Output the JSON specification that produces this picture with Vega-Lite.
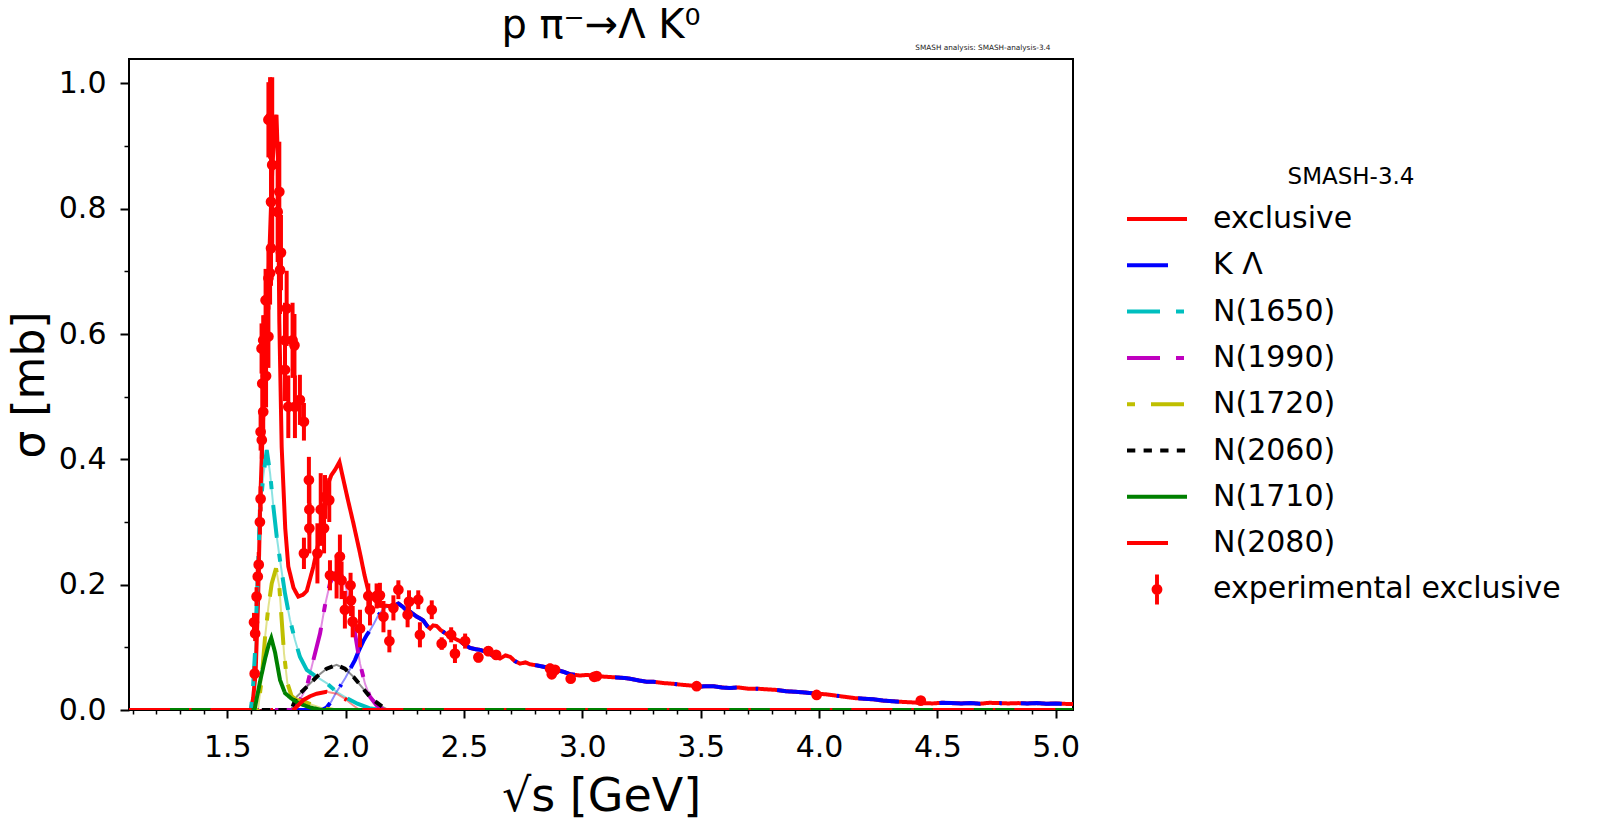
{
  "$schema": "https://vega.github.io/schema/vega-lite/v6.json",
  "autosize": {"type": "none"},
  "padding": {"left": 129, "top": 59, "right": 527, "bottom": 125},
  "width": 944,
  "height": 651,
  "background": "white",
  "config": {"font": "DejaVu Sans", "view": {"stroke": "black", "strokeWidth": 2}},
  "title": {"text": "p π⁻→Λ K⁰", "fontSize": 40, "fontWeight": "normal", "font": "DejaVu Sans", "color": "black", "anchor": "middle", "offset": -3},
  "datasets": {
    "curves": [
      {"series": "exclusive", "x": 1.085, "y": 0},
      {"series": "exclusive", "x": 1.6, "y": 0},
      {"series": "exclusive", "x": 1.61, "y": 0.02},
      {"series": "exclusive", "x": 1.62, "y": 0.06},
      {"series": "exclusive", "x": 1.63, "y": 0.17},
      {"series": "exclusive", "x": 1.64, "y": 0.34},
      {"series": "exclusive", "x": 1.652, "y": 0.47},
      {"series": "exclusive", "x": 1.665, "y": 0.6},
      {"series": "exclusive", "x": 1.68, "y": 0.75},
      {"series": "exclusive", "x": 1.69, "y": 0.86},
      {"series": "exclusive", "x": 1.7, "y": 0.93},
      {"series": "exclusive", "x": 1.708, "y": 0.95},
      {"series": "exclusive", "x": 1.714, "y": 0.88},
      {"series": "exclusive", "x": 1.72, "y": 0.62},
      {"series": "exclusive", "x": 1.73, "y": 0.42},
      {"series": "exclusive", "x": 1.745, "y": 0.29},
      {"series": "exclusive", "x": 1.758, "y": 0.229},
      {"series": "exclusive", "x": 1.78, "y": 0.195},
      {"series": "exclusive", "x": 1.8, "y": 0.181},
      {"series": "exclusive", "x": 1.82, "y": 0.184},
      {"series": "exclusive", "x": 1.836, "y": 0.19},
      {"series": "exclusive", "x": 1.864, "y": 0.229},
      {"series": "exclusive", "x": 1.89, "y": 0.275},
      {"series": "exclusive", "x": 1.913, "y": 0.319},
      {"series": "exclusive", "x": 1.925, "y": 0.36},
      {"series": "exclusive", "x": 1.94, "y": 0.375},
      {"series": "exclusive", "x": 1.955, "y": 0.383},
      {"series": "exclusive", "x": 1.974, "y": 0.396},
      {"series": "exclusive", "x": 1.991, "y": 0.367},
      {"series": "exclusive", "x": 2.01, "y": 0.335},
      {"series": "exclusive", "x": 2.033, "y": 0.298},
      {"series": "exclusive", "x": 2.061, "y": 0.25},
      {"series": "exclusive", "x": 2.08, "y": 0.215},
      {"series": "exclusive", "x": 2.096, "y": 0.19},
      {"series": "exclusive", "x": 2.12, "y": 0.176},
      {"series": "exclusive", "x": 2.15, "y": 0.167},
      {"series": "exclusive", "x": 2.18, "y": 0.166},
      {"series": "exclusive", "x": 2.202, "y": 0.166},
      {"series": "exclusive", "x": 2.223, "y": 0.17},
      {"series": "exclusive", "x": 2.244, "y": 0.164},
      {"series": "exclusive", "x": 2.26, "y": 0.158},
      {"series": "exclusive", "x": 2.272, "y": 0.157},
      {"series": "exclusive", "x": 2.29, "y": 0.152},
      {"series": "exclusive", "x": 2.3, "y": 0.149},
      {"series": "exclusive", "x": 2.315, "y": 0.146},
      {"series": "exclusive", "x": 2.328, "y": 0.143},
      {"series": "exclusive", "x": 2.345, "y": 0.134},
      {"series": "exclusive", "x": 2.357, "y": 0.13},
      {"series": "exclusive", "x": 2.37, "y": 0.135},
      {"series": "exclusive", "x": 2.385, "y": 0.134},
      {"series": "exclusive", "x": 2.4, "y": 0.128},
      {"series": "exclusive", "x": 2.427, "y": 0.121},
      {"series": "exclusive", "x": 2.45, "y": 0.116},
      {"series": "exclusive", "x": 2.483, "y": 0.11},
      {"series": "exclusive", "x": 2.5, "y": 0.105},
      {"series": "exclusive", "x": 2.526, "y": 0.099},
      {"series": "exclusive", "x": 2.55, "y": 0.097},
      {"series": "exclusive", "x": 2.568, "y": 0.096},
      {"series": "exclusive", "x": 2.6, "y": 0.092},
      {"series": "exclusive", "x": 2.625, "y": 0.086},
      {"series": "exclusive", "x": 2.652, "y": 0.082},
      {"series": "exclusive", "x": 2.675, "y": 0.087},
      {"series": "exclusive", "x": 2.695, "y": 0.085},
      {"series": "exclusive", "x": 2.715, "y": 0.078},
      {"series": "exclusive", "x": 2.737, "y": 0.074},
      {"series": "exclusive", "x": 2.76, "y": 0.076},
      {"series": "exclusive", "x": 2.779, "y": 0.073},
      {"series": "exclusive", "x": 2.81, "y": 0.071},
      {"series": "exclusive", "x": 2.836, "y": 0.069},
      {"series": "exclusive", "x": 2.86, "y": 0.067},
      {"series": "exclusive", "x": 2.878, "y": 0.066},
      {"series": "exclusive", "x": 2.9, "y": 0.063},
      {"series": "exclusive", "x": 2.92, "y": 0.061},
      {"series": "exclusive", "x": 2.95, "y": 0.057},
      {"series": "exclusive", "x": 2.99, "y": 0.055},
      {"series": "exclusive", "x": 3.02, "y": 0.056},
      {"series": "exclusive", "x": 3.061, "y": 0.054},
      {"series": "exclusive", "x": 3.1, "y": 0.053},
      {"series": "exclusive", "x": 3.145, "y": 0.052},
      {"series": "exclusive", "x": 3.18, "y": 0.051},
      {"series": "exclusive", "x": 3.202, "y": 0.05},
      {"series": "exclusive", "x": 3.24, "y": 0.047},
      {"series": "exclusive", "x": 3.272, "y": 0.045},
      {"series": "exclusive", "x": 3.3, "y": 0.045},
      {"series": "exclusive", "x": 3.342, "y": 0.043},
      {"series": "exclusive", "x": 3.38, "y": 0.042},
      {"series": "exclusive", "x": 3.427, "y": 0.04},
      {"series": "exclusive", "x": 3.46, "y": 0.039},
      {"series": "exclusive", "x": 3.483, "y": 0.037},
      {"series": "exclusive", "x": 3.52, "y": 0.038},
      {"series": "exclusive", "x": 3.554, "y": 0.038},
      {"series": "exclusive", "x": 3.59, "y": 0.036},
      {"series": "exclusive", "x": 3.624, "y": 0.035},
      {"series": "exclusive", "x": 3.66, "y": 0.036},
      {"series": "exclusive", "x": 3.7, "y": 0.034},
      {"series": "exclusive", "x": 3.74, "y": 0.034},
      {"series": "exclusive", "x": 3.78, "y": 0.033},
      {"series": "exclusive", "x": 3.82, "y": 0.032},
      {"series": "exclusive", "x": 3.86, "y": 0.03},
      {"series": "exclusive", "x": 3.9, "y": 0.029},
      {"series": "exclusive", "x": 3.94, "y": 0.028},
      {"series": "exclusive", "x": 3.99, "y": 0.026},
      {"series": "exclusive", "x": 4.03, "y": 0.025},
      {"series": "exclusive", "x": 4.07, "y": 0.023},
      {"series": "exclusive", "x": 4.11, "y": 0.021},
      {"series": "exclusive", "x": 4.15, "y": 0.019},
      {"series": "exclusive", "x": 4.19, "y": 0.018},
      {"series": "exclusive", "x": 4.23, "y": 0.017},
      {"series": "exclusive", "x": 4.27, "y": 0.015},
      {"series": "exclusive", "x": 4.31, "y": 0.014},
      {"series": "exclusive", "x": 4.35, "y": 0.013},
      {"series": "exclusive", "x": 4.4, "y": 0.012},
      {"series": "exclusive", "x": 4.44, "y": 0.011},
      {"series": "exclusive", "x": 4.48, "y": 0.0105},
      {"series": "exclusive", "x": 4.52, "y": 0.0115},
      {"series": "exclusive", "x": 4.56, "y": 0.011},
      {"series": "exclusive", "x": 4.6, "y": 0.0105},
      {"series": "exclusive", "x": 4.64, "y": 0.011},
      {"series": "exclusive", "x": 4.68, "y": 0.01},
      {"series": "exclusive", "x": 4.72, "y": 0.0115},
      {"series": "exclusive", "x": 4.76, "y": 0.011},
      {"series": "exclusive", "x": 4.8, "y": 0.0105},
      {"series": "exclusive", "x": 4.84, "y": 0.011},
      {"series": "exclusive", "x": 4.88, "y": 0.0105},
      {"series": "exclusive", "x": 4.92, "y": 0.011},
      {"series": "exclusive", "x": 4.96, "y": 0.01},
      {"series": "exclusive", "x": 5.0, "y": 0.0105},
      {"series": "exclusive", "x": 5.04, "y": 0.0098},
      {"series": "exclusive", "x": 5.073, "y": 0.0095},

      {"series": "K Λ", "x": 1.085, "y": 0},
      {"series": "K Λ", "x": 1.9, "y": 0},
      {"series": "K Λ", "x": 1.92, "y": 0.004},
      {"series": "K Λ", "x": 1.94, "y": 0.014},
      {"series": "K Λ", "x": 1.96, "y": 0.028},
      {"series": "K Λ", "x": 1.976, "y": 0.037},
      {"series": "K Λ", "x": 2.0, "y": 0.052},
      {"series": "K Λ", "x": 2.02, "y": 0.066},
      {"series": "K Λ", "x": 2.04, "y": 0.08},
      {"series": "K Λ", "x": 2.055, "y": 0.094},
      {"series": "K Λ", "x": 2.075, "y": 0.11},
      {"series": "K Λ", "x": 2.09, "y": 0.12},
      {"series": "K Λ", "x": 2.103, "y": 0.127},
      {"series": "K Λ", "x": 2.12, "y": 0.138},
      {"series": "K Λ", "x": 2.138, "y": 0.151},
      {"series": "K Λ", "x": 2.16, "y": 0.161},
      {"series": "K Λ", "x": 2.18, "y": 0.166},
      {"series": "K Λ", "x": 2.202, "y": 0.166},
      {"series": "K Λ", "x": 2.223, "y": 0.17},
      {"series": "K Λ", "x": 2.244, "y": 0.164},
      {"series": "K Λ", "x": 2.26, "y": 0.158},
      {"series": "K Λ", "x": 2.272, "y": 0.157},
      {"series": "K Λ", "x": 2.29, "y": 0.152},
      {"series": "K Λ", "x": 2.3, "y": 0.149},
      {"series": "K Λ", "x": 2.315, "y": 0.146},
      {"series": "K Λ", "x": 2.328, "y": 0.143},
      {"series": "K Λ", "x": 2.345, "y": 0.134},
      {"series": "K Λ", "x": 2.357, "y": 0.13},
      {"series": "K Λ", "x": 2.37, "y": 0.135},
      {"series": "K Λ", "x": 2.385, "y": 0.134},
      {"series": "K Λ", "x": 2.4, "y": 0.128},
      {"series": "K Λ", "x": 2.427, "y": 0.121},
      {"series": "K Λ", "x": 2.45, "y": 0.116},
      {"series": "K Λ", "x": 2.483, "y": 0.11},
      {"series": "K Λ", "x": 2.5, "y": 0.105},
      {"series": "K Λ", "x": 2.526, "y": 0.099},
      {"series": "K Λ", "x": 2.55, "y": 0.097},
      {"series": "K Λ", "x": 2.568, "y": 0.096},
      {"series": "K Λ", "x": 2.6, "y": 0.092},
      {"series": "K Λ", "x": 2.625, "y": 0.086},
      {"series": "K Λ", "x": 2.652, "y": 0.082},
      {"series": "K Λ", "x": 2.675, "y": 0.087},
      {"series": "K Λ", "x": 2.695, "y": 0.085},
      {"series": "K Λ", "x": 2.715, "y": 0.078},
      {"series": "K Λ", "x": 2.737, "y": 0.074},
      {"series": "K Λ", "x": 2.76, "y": 0.076},
      {"series": "K Λ", "x": 2.779, "y": 0.073},
      {"series": "K Λ", "x": 2.81, "y": 0.071},
      {"series": "K Λ", "x": 2.836, "y": 0.069},
      {"series": "K Λ", "x": 2.86, "y": 0.067},
      {"series": "K Λ", "x": 2.878, "y": 0.066},
      {"series": "K Λ", "x": 2.9, "y": 0.063},
      {"series": "K Λ", "x": 2.92, "y": 0.061},
      {"series": "K Λ", "x": 2.95, "y": 0.057},
      {"series": "K Λ", "x": 2.99, "y": 0.055},
      {"series": "K Λ", "x": 3.02, "y": 0.056},
      {"series": "K Λ", "x": 3.061, "y": 0.054},
      {"series": "K Λ", "x": 3.1, "y": 0.053},
      {"series": "K Λ", "x": 3.145, "y": 0.052},
      {"series": "K Λ", "x": 3.18, "y": 0.051},
      {"series": "K Λ", "x": 3.202, "y": 0.05},
      {"series": "K Λ", "x": 3.24, "y": 0.047},
      {"series": "K Λ", "x": 3.272, "y": 0.045},
      {"series": "K Λ", "x": 3.3, "y": 0.045},
      {"series": "K Λ", "x": 3.342, "y": 0.043},
      {"series": "K Λ", "x": 3.38, "y": 0.042},
      {"series": "K Λ", "x": 3.427, "y": 0.04},
      {"series": "K Λ", "x": 3.46, "y": 0.039},
      {"series": "K Λ", "x": 3.483, "y": 0.037},
      {"series": "K Λ", "x": 3.52, "y": 0.038},
      {"series": "K Λ", "x": 3.554, "y": 0.038},
      {"series": "K Λ", "x": 3.59, "y": 0.036},
      {"series": "K Λ", "x": 3.624, "y": 0.035},
      {"series": "K Λ", "x": 3.66, "y": 0.036},
      {"series": "K Λ", "x": 3.7, "y": 0.034},
      {"series": "K Λ", "x": 3.74, "y": 0.034},
      {"series": "K Λ", "x": 3.78, "y": 0.033},
      {"series": "K Λ", "x": 3.82, "y": 0.032},
      {"series": "K Λ", "x": 3.86, "y": 0.03},
      {"series": "K Λ", "x": 3.9, "y": 0.029},
      {"series": "K Λ", "x": 3.94, "y": 0.028},
      {"series": "K Λ", "x": 3.99, "y": 0.026},
      {"series": "K Λ", "x": 4.03, "y": 0.025},
      {"series": "K Λ", "x": 4.07, "y": 0.023},
      {"series": "K Λ", "x": 4.11, "y": 0.021},
      {"series": "K Λ", "x": 4.15, "y": 0.019},
      {"series": "K Λ", "x": 4.19, "y": 0.018},
      {"series": "K Λ", "x": 4.23, "y": 0.017},
      {"series": "K Λ", "x": 4.27, "y": 0.015},
      {"series": "K Λ", "x": 4.31, "y": 0.014},
      {"series": "K Λ", "x": 4.35, "y": 0.013},
      {"series": "K Λ", "x": 4.4, "y": 0.012},
      {"series": "K Λ", "x": 4.44, "y": 0.011},
      {"series": "K Λ", "x": 4.48, "y": 0.0105},
      {"series": "K Λ", "x": 4.52, "y": 0.0115},
      {"series": "K Λ", "x": 4.56, "y": 0.011},
      {"series": "K Λ", "x": 4.6, "y": 0.0105},
      {"series": "K Λ", "x": 4.64, "y": 0.011},
      {"series": "K Λ", "x": 4.68, "y": 0.01},
      {"series": "K Λ", "x": 4.72, "y": 0.0115},
      {"series": "K Λ", "x": 4.76, "y": 0.011},
      {"series": "K Λ", "x": 4.8, "y": 0.0105},
      {"series": "K Λ", "x": 4.84, "y": 0.011},
      {"series": "K Λ", "x": 4.88, "y": 0.0105},
      {"series": "K Λ", "x": 4.92, "y": 0.011},
      {"series": "K Λ", "x": 4.96, "y": 0.01},
      {"series": "K Λ", "x": 5.0, "y": 0.0105},
      {"series": "K Λ", "x": 5.04, "y": 0.0098},
      {"series": "K Λ", "x": 5.073, "y": 0.0095},

      {"series": "N(1650)", "x": 1.085, "y": 0},
      {"series": "N(1650)", "x": 1.6, "y": 0},
      {"series": "N(1650)", "x": 1.608, "y": 0.03},
      {"series": "N(1650)", "x": 1.617, "y": 0.09},
      {"series": "N(1650)", "x": 1.624, "y": 0.165},
      {"series": "N(1650)", "x": 1.631, "y": 0.239},
      {"series": "N(1650)", "x": 1.638, "y": 0.314},
      {"series": "N(1650)", "x": 1.652, "y": 0.372},
      {"series": "N(1650)", "x": 1.667, "y": 0.415},
      {"series": "N(1650)", "x": 1.681, "y": 0.378},
      {"series": "N(1650)", "x": 1.695, "y": 0.324},
      {"series": "N(1650)", "x": 1.709, "y": 0.277},
      {"series": "N(1650)", "x": 1.723, "y": 0.239},
      {"series": "N(1650)", "x": 1.744, "y": 0.186},
      {"series": "N(1650)", "x": 1.765, "y": 0.144},
      {"series": "N(1650)", "x": 1.786, "y": 0.112},
      {"series": "N(1650)", "x": 1.807, "y": 0.085},
      {"series": "N(1650)", "x": 1.836, "y": 0.064},
      {"series": "N(1650)", "x": 1.878, "y": 0.053},
      {"series": "N(1650)", "x": 1.92, "y": 0.043},
      {"series": "N(1650)", "x": 1.962, "y": 0.029},
      {"series": "N(1650)", "x": 2.005, "y": 0.019},
      {"series": "N(1650)", "x": 2.05, "y": 0.01},
      {"series": "N(1650)", "x": 2.1, "y": 0.003},
      {"series": "N(1650)", "x": 2.15, "y": 0},
      {"series": "N(1650)", "x": 5.073, "y": 0},

      {"series": "N(1990)", "x": 1.085, "y": 0},
      {"series": "N(1990)", "x": 1.78, "y": 0},
      {"series": "N(1990)", "x": 1.807, "y": 0.016},
      {"series": "N(1990)", "x": 1.836, "y": 0.037},
      {"series": "N(1990)", "x": 1.864, "y": 0.08},
      {"series": "N(1990)", "x": 1.892, "y": 0.122},
      {"series": "N(1990)", "x": 1.913, "y": 0.167},
      {"series": "N(1990)", "x": 1.934, "y": 0.202},
      {"series": "N(1990)", "x": 1.955, "y": 0.218},
      {"series": "N(1990)", "x": 1.976, "y": 0.221},
      {"series": "N(1990)", "x": 1.997, "y": 0.202},
      {"series": "N(1990)", "x": 2.019, "y": 0.17},
      {"series": "N(1990)", "x": 2.04, "y": 0.122},
      {"series": "N(1990)", "x": 2.061, "y": 0.074},
      {"series": "N(1990)", "x": 2.082, "y": 0.042},
      {"series": "N(1990)", "x": 2.103, "y": 0.021},
      {"series": "N(1990)", "x": 2.13, "y": 0.008},
      {"series": "N(1990)", "x": 2.16, "y": 0},
      {"series": "N(1990)", "x": 5.073, "y": 0},

      {"series": "N(1720)", "x": 1.085, "y": 0},
      {"series": "N(1720)", "x": 1.63, "y": 0},
      {"series": "N(1720)", "x": 1.645, "y": 0.048},
      {"series": "N(1720)", "x": 1.66, "y": 0.117},
      {"series": "N(1720)", "x": 1.674, "y": 0.165},
      {"series": "N(1720)", "x": 1.688, "y": 0.202},
      {"series": "N(1720)", "x": 1.706, "y": 0.226},
      {"series": "N(1720)", "x": 1.72, "y": 0.197},
      {"series": "N(1720)", "x": 1.73, "y": 0.144},
      {"series": "N(1720)", "x": 1.74, "y": 0.09},
      {"series": "N(1720)", "x": 1.754, "y": 0.043},
      {"series": "N(1720)", "x": 1.772, "y": 0.022},
      {"series": "N(1720)", "x": 1.793, "y": 0.016},
      {"series": "N(1720)", "x": 1.82, "y": 0.014},
      {"series": "N(1720)", "x": 1.86, "y": 0.008},
      {"series": "N(1720)", "x": 1.9, "y": 0.003},
      {"series": "N(1720)", "x": 1.95, "y": 0},
      {"series": "N(1720)", "x": 5.073, "y": 0},

      {"series": "N(2060)", "x": 1.085, "y": 0},
      {"series": "N(2060)", "x": 1.77, "y": 0},
      {"series": "N(2060)", "x": 1.793, "y": 0.021},
      {"series": "N(2060)", "x": 1.836, "y": 0.037},
      {"series": "N(2060)", "x": 1.878, "y": 0.053},
      {"series": "N(2060)", "x": 1.92, "y": 0.066},
      {"series": "N(2060)", "x": 1.962, "y": 0.072},
      {"series": "N(2060)", "x": 1.997, "y": 0.066},
      {"series": "N(2060)", "x": 2.033, "y": 0.053},
      {"series": "N(2060)", "x": 2.068, "y": 0.037},
      {"series": "N(2060)", "x": 2.103, "y": 0.021},
      {"series": "N(2060)", "x": 2.131, "y": 0.012},
      {"series": "N(2060)", "x": 2.16, "y": 0.004},
      {"series": "N(2060)", "x": 2.18, "y": 0},
      {"series": "N(2060)", "x": 5.073, "y": 0},

      {"series": "N(1710)", "x": 1.085, "y": 0},
      {"series": "N(1710)", "x": 1.615, "y": 0},
      {"series": "N(1710)", "x": 1.64, "y": 0.048},
      {"series": "N(1710)", "x": 1.66, "y": 0.082},
      {"series": "N(1710)", "x": 1.675, "y": 0.104},
      {"series": "N(1710)", "x": 1.686, "y": 0.115},
      {"series": "N(1710)", "x": 1.702, "y": 0.092},
      {"series": "N(1710)", "x": 1.723, "y": 0.048},
      {"series": "N(1710)", "x": 1.744, "y": 0.027},
      {"series": "N(1710)", "x": 1.772, "y": 0.018},
      {"series": "N(1710)", "x": 1.8, "y": 0.011},
      {"series": "N(1710)", "x": 1.85, "y": 0.004},
      {"series": "N(1710)", "x": 1.9, "y": 0},
      {"series": "N(1710)", "x": 5.073, "y": 0},

      {"series": "N(2080)", "x": 1.085, "y": 0},
      {"series": "N(2080)", "x": 1.78, "y": 0},
      {"series": "N(2080)", "x": 1.822, "y": 0.016},
      {"series": "N(2080)", "x": 1.85, "y": 0.022},
      {"series": "N(2080)", "x": 1.878, "y": 0.026},
      {"series": "N(2080)", "x": 1.92, "y": 0.029},
      {"series": "N(2080)", "x": 1.962, "y": 0.026},
      {"series": "N(2080)", "x": 1.997, "y": 0.018},
      {"series": "N(2080)", "x": 2.03, "y": 0.008},
      {"series": "N(2080)", "x": 2.06, "y": 0},
      {"series": "N(2080)", "x": 5.073, "y": 0}
    ],
    "exp": [
      {"series": "experimental exclusive", "x": 1.616, "y": 0.058, "lo": 0.046, "hi": 0.07},
      {"series": "experimental exclusive", "x": 1.613, "y": 0.14, "lo": 0.125, "hi": 0.155},
      {"series": "experimental exclusive", "x": 1.618, "y": 0.122, "lo": 0.11, "hi": 0.134},
      {"series": "experimental exclusive", "x": 1.624, "y": 0.181, "lo": 0.166, "hi": 0.196},
      {"series": "experimental exclusive", "x": 1.629, "y": 0.213, "lo": 0.198, "hi": 0.228},
      {"series": "experimental exclusive", "x": 1.633, "y": 0.232, "lo": 0.212, "hi": 0.252},
      {"series": "experimental exclusive", "x": 1.638, "y": 0.3, "lo": 0.28, "hi": 0.32},
      {"series": "experimental exclusive", "x": 1.641, "y": 0.337, "lo": 0.317, "hi": 0.357},
      {"series": "experimental exclusive", "x": 1.641, "y": 0.444, "lo": 0.414, "hi": 0.474},
      {"series": "experimental exclusive", "x": 1.646, "y": 0.431, "lo": 0.401, "hi": 0.461},
      {"series": "experimental exclusive", "x": 1.648, "y": 0.521, "lo": 0.481, "hi": 0.561},
      {"series": "experimental exclusive", "x": 1.652, "y": 0.476, "lo": 0.436, "hi": 0.516},
      {"series": "experimental exclusive", "x": 1.652, "y": 0.59, "lo": 0.55, "hi": 0.63},
      {"series": "experimental exclusive", "x": 1.645, "y": 0.577, "lo": 0.537, "hi": 0.617},
      {"series": "experimental exclusive", "x": 1.657, "y": 0.59, "lo": 0.55, "hi": 0.63},
      {"series": "experimental exclusive", "x": 1.662, "y": 0.654, "lo": 0.604, "hi": 0.704},
      {"series": "experimental exclusive", "x": 1.664, "y": 0.533, "lo": 0.483, "hi": 0.583},
      {"series": "experimental exclusive", "x": 1.674, "y": 0.596, "lo": 0.546, "hi": 0.646},
      {"series": "experimental exclusive", "x": 1.674, "y": 0.689, "lo": 0.639, "hi": 0.739},
      {"series": "experimental exclusive", "x": 1.681, "y": 0.697, "lo": 0.647, "hi": 0.747},
      {"series": "experimental exclusive", "x": 1.674, "y": 0.942, "lo": 0.882, "hi": 1.002},
      {"series": "experimental exclusive", "x": 1.681, "y": 0.945, "lo": 0.88, "hi": 1.01},
      {"series": "experimental exclusive", "x": 1.685, "y": 0.811, "lo": 0.741, "hi": 0.881},
      {"series": "experimental exclusive", "x": 1.685, "y": 0.737, "lo": 0.677, "hi": 0.797},
      {"series": "experimental exclusive", "x": 1.69, "y": 0.87, "lo": 0.73, "hi": 1.01},
      {"series": "experimental exclusive", "x": 1.713, "y": 0.795, "lo": 0.715, "hi": 0.875},
      {"series": "experimental exclusive", "x": 1.72, "y": 0.827, "lo": 0.747, "hi": 0.907},
      {"series": "experimental exclusive", "x": 1.723, "y": 0.702, "lo": 0.632, "hi": 0.772},
      {"series": "experimental exclusive", "x": 1.727, "y": 0.73, "lo": 0.67, "hi": 0.79},
      {"series": "experimental exclusive", "x": 1.744, "y": 0.59, "lo": 0.53, "hi": 0.65},
      {"series": "experimental exclusive", "x": 1.744, "y": 0.543, "lo": 0.493, "hi": 0.593},
      {"series": "experimental exclusive", "x": 1.751, "y": 0.641, "lo": 0.581, "hi": 0.701},
      {"series": "experimental exclusive", "x": 1.758, "y": 0.484, "lo": 0.434, "hi": 0.534},
      {"series": "experimental exclusive", "x": 1.776, "y": 0.59, "lo": 0.53, "hi": 0.65},
      {"series": "experimental exclusive", "x": 1.784, "y": 0.582, "lo": 0.532, "hi": 0.632},
      {"series": "experimental exclusive", "x": 1.786, "y": 0.484, "lo": 0.434, "hi": 0.534},
      {"series": "experimental exclusive", "x": 1.807, "y": 0.495, "lo": 0.455, "hi": 0.535},
      {"series": "experimental exclusive", "x": 1.824, "y": 0.46, "lo": 0.43, "hi": 0.49},
      {"series": "experimental exclusive", "x": 1.824, "y": 0.25, "lo": 0.225, "hi": 0.275},
      {"series": "experimental exclusive", "x": 1.845, "y": 0.367, "lo": 0.33, "hi": 0.404},
      {"series": "experimental exclusive", "x": 1.847, "y": 0.32, "lo": 0.28, "hi": 0.36},
      {"series": "experimental exclusive", "x": 1.847, "y": 0.29, "lo": 0.25, "hi": 0.33},
      {"series": "experimental exclusive", "x": 1.881, "y": 0.25, "lo": 0.202, "hi": 0.298},
      {"series": "experimental exclusive", "x": 1.895, "y": 0.32, "lo": 0.262, "hi": 0.378},
      {"series": "experimental exclusive", "x": 1.909, "y": 0.29, "lo": 0.25, "hi": 0.33},
      {"series": "experimental exclusive", "x": 1.913, "y": 0.34, "lo": 0.305, "hi": 0.375},
      {"series": "experimental exclusive", "x": 1.931, "y": 0.335, "lo": 0.3, "hi": 0.37},
      {"series": "experimental exclusive", "x": 1.934, "y": 0.215, "lo": 0.191, "hi": 0.239},
      {"series": "experimental exclusive", "x": 1.962, "y": 0.213, "lo": 0.178, "hi": 0.248},
      {"series": "experimental exclusive", "x": 1.976, "y": 0.245, "lo": 0.21, "hi": 0.28},
      {"series": "experimental exclusive", "x": 1.983, "y": 0.207, "lo": 0.177, "hi": 0.237},
      {"series": "experimental exclusive", "x": 1.997, "y": 0.16, "lo": 0.13, "hi": 0.19},
      {"series": "experimental exclusive", "x": 2.021, "y": 0.199, "lo": 0.179, "hi": 0.219},
      {"series": "experimental exclusive", "x": 2.023, "y": 0.175, "lo": 0.15, "hi": 0.2},
      {"series": "experimental exclusive", "x": 2.03, "y": 0.141, "lo": 0.116, "hi": 0.166},
      {"series": "experimental exclusive", "x": 2.061, "y": 0.13, "lo": 0.1, "hi": 0.16},
      {"series": "experimental exclusive", "x": 2.096, "y": 0.182, "lo": 0.162, "hi": 0.202},
      {"series": "experimental exclusive", "x": 2.103, "y": 0.16, "lo": 0.135, "hi": 0.185},
      {"series": "experimental exclusive", "x": 2.131, "y": 0.182, "lo": 0.162, "hi": 0.202},
      {"series": "experimental exclusive", "x": 2.145, "y": 0.183, "lo": 0.163, "hi": 0.203},
      {"series": "experimental exclusive", "x": 2.16, "y": 0.149, "lo": 0.124, "hi": 0.174},
      {"series": "experimental exclusive", "x": 2.185, "y": 0.11, "lo": 0.092, "hi": 0.128},
      {"series": "experimental exclusive", "x": 2.202, "y": 0.163, "lo": 0.143, "hi": 0.183},
      {"series": "experimental exclusive", "x": 2.223, "y": 0.192, "lo": 0.177, "hi": 0.207},
      {"series": "experimental exclusive", "x": 2.262, "y": 0.152, "lo": 0.132, "hi": 0.172},
      {"series": "experimental exclusive", "x": 2.268, "y": 0.173, "lo": 0.155, "hi": 0.191},
      {"series": "experimental exclusive", "x": 2.307, "y": 0.176, "lo": 0.161, "hi": 0.191},
      {"series": "experimental exclusive", "x": 2.314, "y": 0.12, "lo": 0.1, "hi": 0.14},
      {"series": "experimental exclusive", "x": 2.364, "y": 0.16, "lo": 0.145, "hi": 0.175},
      {"series": "experimental exclusive", "x": 2.406, "y": 0.106, "lo": 0.096, "hi": 0.116},
      {"series": "experimental exclusive", "x": 2.446, "y": 0.12, "lo": 0.108, "hi": 0.132},
      {"series": "experimental exclusive", "x": 2.462, "y": 0.09, "lo": 0.075, "hi": 0.105},
      {"series": "experimental exclusive", "x": 2.505, "y": 0.11, "lo": 0.098, "hi": 0.122},
      {"series": "experimental exclusive", "x": 2.561, "y": 0.084, "lo": 0.076, "hi": 0.092},
      {"series": "experimental exclusive", "x": 2.603, "y": 0.094, "lo": 0.086, "hi": 0.102},
      {"series": "experimental exclusive", "x": 2.636, "y": 0.088, "lo": 0.082, "hi": 0.094},
      {"series": "experimental exclusive", "x": 2.864, "y": 0.066, "lo": 0.058, "hi": 0.074},
      {"series": "experimental exclusive", "x": 2.871, "y": 0.057, "lo": 0.051, "hi": 0.063},
      {"series": "experimental exclusive", "x": 2.885, "y": 0.064, "lo": 0.058, "hi": 0.07},
      {"series": "experimental exclusive", "x": 2.951, "y": 0.05, "lo": 0.045, "hi": 0.055},
      {"series": "experimental exclusive", "x": 3.05, "y": 0.053, "lo": 0.049, "hi": 0.057},
      {"series": "experimental exclusive", "x": 3.061, "y": 0.054, "lo": 0.05, "hi": 0.058},
      {"series": "experimental exclusive", "x": 3.483, "y": 0.038, "lo": 0.034, "hi": 0.042},
      {"series": "experimental exclusive", "x": 3.99, "y": 0.024, "lo": 0.019, "hi": 0.029},
      {"series": "experimental exclusive", "x": 4.43, "y": 0.015, "lo": 0.011, "hi": 0.019}
    ]
  },
  "layer": [
    {
      "layer": [
        {
          "data": {"name": "curves"},
          "mark": {"type": "line", "strokeWidth": 2, "strokeOpacity": 0.45, "clip": true},
          "encoding": {
            "x": {
              "field": "x", "type": "quantitative",
              "scale": {"domain": [1.085, 5.073], "nice": false, "zero": false},
              "title": "√s [GeV]",
              "axis": {
                "values": [1.5, 2.0, 2.5, 3.0, 3.5, 4.0, 4.5, 5.0],
                "format": ".1f",
                "tickSize": 8, "tickWidth": 2, "tickColor": "black",
                "labelFontSize": 30, "labelFont": "DejaVu Sans", "labelColor": "black",
                "labelPadding": 14, "labelFlush": false, "labelOverlap": false,
                "domain": false, "grid": false,
                "titleFontSize": 46, "titleFont": "DejaVu Sans", "titleFontWeight": "normal", "titleColor": "black", "titlePadding": 12
              }
            },
            "y": {
              "field": "y", "type": "quantitative",
              "scale": {"domain": [0, 1.039], "nice": false},
              "title": "σ [mb]",
              "axis": {
                "values": [0,0.05,0.1,0.15,0.2,0.25,0.3,0.35,0.4,0.45,0.5,0.55,0.6,0.65,0.7,0.75,0.8,0.85,0.9,0.95,1.0],
                "labelExpr": "abs(datum.value*5-round(datum.value*5))<0.001 ? format(datum.value,'.1f') : ''",
                "tickSize": {"condition": {"test": "abs(datum.value*5-round(datum.value*5))<0.001", "value": 9}, "value": 5},
                "tickWidth": {"condition": {"test": "abs(datum.value*5-round(datum.value*5))<0.001", "value": 2}, "value": 1.5},
                "tickColor": "black",
                "labelFontSize": 30, "labelFont": "DejaVu Sans", "labelColor": "black",
                "labelPadding": 14, "labelFlush": false, "labelOverlap": false,
                "domain": false, "grid": false,
                "titleFontSize": 44, "titleFont": "DejaVu Sans", "titleFontWeight": "normal", "titleColor": "black", "titlePadding": 6
              }
            },
            "color": {
              "field": "series", "type": "nominal", "title": "SMASH-3.4",
              "scale": {
                "domain": ["exclusive", "K Λ", "N(1650)", "N(1990)", "N(1720)", "N(2060)", "N(1710)", "N(2080)", "experimental exclusive"],
                "range": ["#ff0000", "#0000ff", "#00bfbf", "#bf00bf", "#bfbf00", "#000000", "#008000", "#ff0000", "#ff0000"]
              },
              "legend": {
                "orient": "none", "legendX": 1013, "legendY": 107, "padding": 0,
                "titleFontSize": 23, "titleFont": "DejaVu Sans", "titleFontWeight": "normal", "titleColor": "black", "titleAnchor": "middle", "titlePadding": 15,
                "labelFontSize": 30, "labelFont": "DejaVu Sans", "labelColor": "black", "labelOffset": 41, "labelLimit": 700,
                "symbolType": "stroke", "symbolSize": 3600, "symbolStrokeWidth": 4, "rowPadding": 16.3,
                "encode": {"symbols": {"update": {
                  "shape": {"signal": "datum.value === 'experimental exclusive' ? 'M-0.18,0A0.18,0.18 0 1,1 0.18,0A0.18,0.18 0 1,1 -0.18,0ZM-0.065,-0.5L0.065,-0.5L0.065,0.5L-0.065,0.5Z' : 'stroke'"},
                  "fill": {"signal": "datum.value === 'experimental exclusive' ? '#ff0000' : 'transparent'"},
                  "strokeWidth": {"signal": "datum.value === 'experimental exclusive' ? 0 : 4"},
                  "opacity": {"value": 1}
                }}}
              }
            }
          }
        },
        {
          "data": {"name": "curves"},
          "mark": {"type": "line", "strokeWidth": 4, "clip": true},
          "encoding": {
            "x": {"field": "x", "type": "quantitative"},
            "y": {"field": "y", "type": "quantitative"},
            "color": {"field": "series", "type": "nominal", "title": "SMASH-3.4"},
            "strokeDash": {
              "field": "series", "type": "nominal", "title": "SMASH-3.4",
              "scale": {
                "domain": ["exclusive", "K Λ", "N(1650)", "N(1990)", "N(1720)", "N(2060)", "N(1710)", "N(2080)", "experimental exclusive"],
                "range": [[1, 0], [41, 19, 2.5, 19], [33, 16, 8, 16], [33, 16, 8, 16], [8, 16, 33, 16], [8.3, 8.3], [1, 0], [41, 19, 2.5, 19], [1, 0]]
              }
            }
          }
        },
        {
          "data": {"name": "exp"},
          "mark": {"type": "rule", "strokeWidth": 4, "clip": true},
          "encoding": {
            "x": {"field": "x", "type": "quantitative"},
            "y": {"field": "lo", "type": "quantitative"},
            "y2": {"field": "hi"},
            "color": {"field": "series", "type": "nominal", "title": "SMASH-3.4"}
          }
        },
        {
          "data": {"name": "exp"},
          "mark": {"type": "point", "filled": true, "size": 115, "opacity": 1, "clip": true},
          "encoding": {
            "x": {"field": "x", "type": "quantitative"},
            "y": {"field": "y", "type": "quantitative"},
            "color": {"field": "series", "type": "nominal", "title": "SMASH-3.4"}
          }
        }
      ]
    },
    {
      "data": {"name": "exp"},
      "mark": {"type": "point", "opacity": 0},
      "encoding": {
        "x": {
          "field": "x", "type": "quantitative",
          "scale": {"domain": [1.085, 5.073], "nice": false, "zero": false},
          "axis": {
            "orient": "top", "labels": false, "ticks": false, "domain": false, "grid": false,
            "title": "SMASH analysis: SMASH-analysis-3.4",
            "titleFontSize": 7.3, "titleFont": "DejaVu Sans", "titleFontWeight": "normal", "titleColor": "#222222",
            "titleAnchor": "end", "titleAlign": "right", "titleX": 921, "titlePadding": 8
          }
        }
      }
    },
    {
      "data": {"name": "exp"},
      "mark": {"type": "point", "opacity": 0},
      "encoding": {
        "x": {
          "field": "x", "type": "quantitative",
          "scale": {"domain": [1.085, 5.073], "nice": false, "zero": false},
          "axis": {
            "orient": "bottom",
            "values": [1.1,1.2,1.3,1.4,1.6,1.7,1.8,1.9,2.1,2.2,2.3,2.4,2.6,2.7,2.8,2.9,3.1,3.2,3.3,3.4,3.6,3.7,3.8,3.9,4.1,4.2,4.3,4.4,4.6,4.7,4.8,4.9],
            "labels": false, "tickSize": 4, "tickWidth": 1.5, "tickColor": "black",
            "domain": false, "grid": false, "title": null
          }
        }
      }
    }
  ],
  "resolve": {"axis": {"x": "independent"}}
}
